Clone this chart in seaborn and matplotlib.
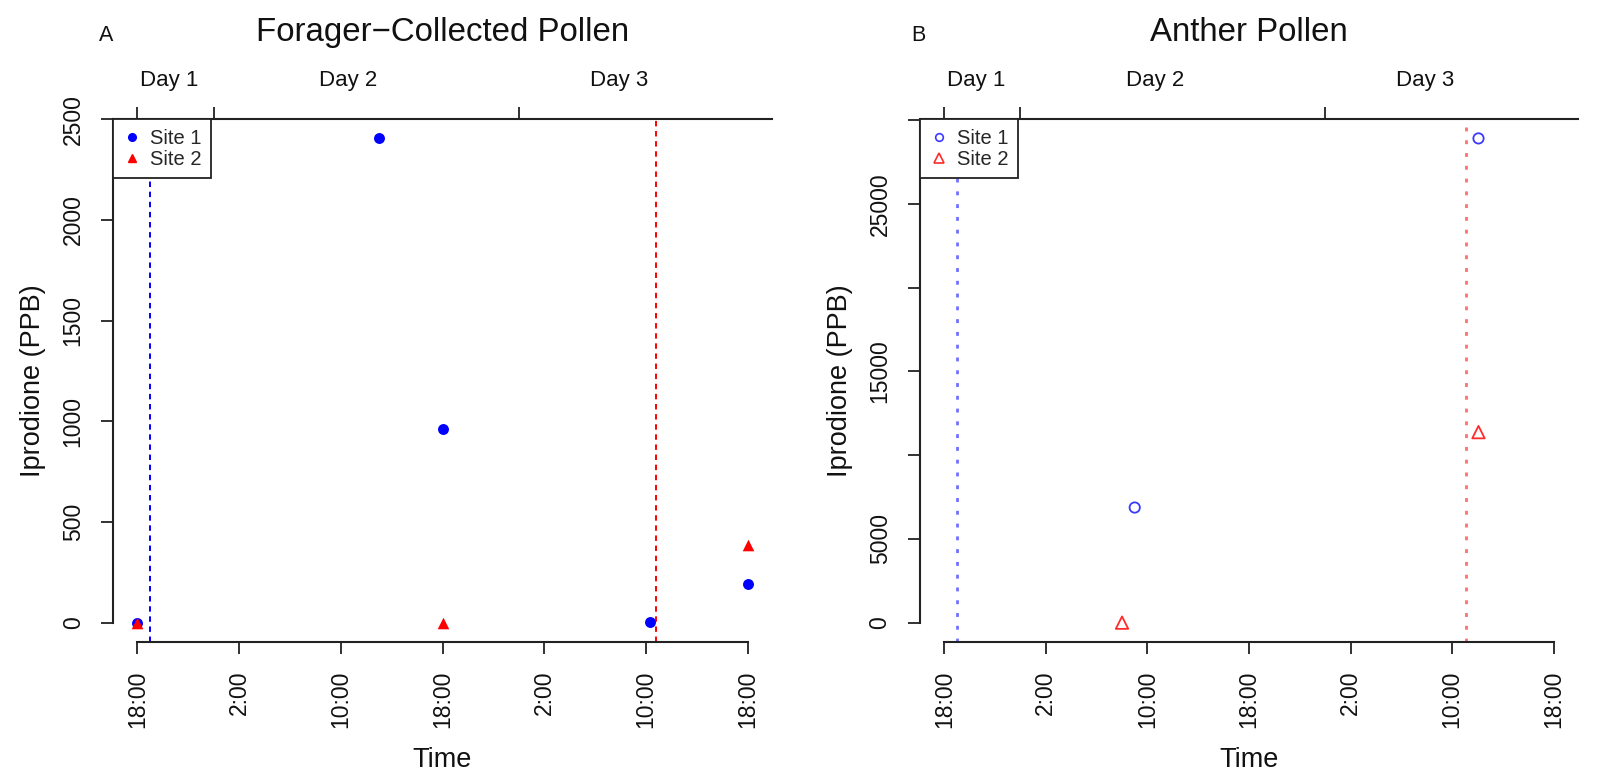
import numpy as np
import pandas as pd
import seaborn as sns
import matplotlib.pyplot as plt
from matplotlib.lines import Line2D

sns.set_theme(style='white')
plt.rcParams['font.family'] = ['Liberation Sans', 'DejaVu Sans']

# times are "day hh:mm", day 1 starts at 18:00
forager_site1_time = ['1 18:00', '2 13:00', '2 18:00', '3 10:20', '3 18:00']
forager_site1_ppb = [0, 2404, 962, 5, 190]
forager_site2_time = ['1 18:00', '2 18:00', '3 18:00']
forager_site2_ppb = [0, 0, 385]
forager_lines = ['1 19:00', '3 10:50']

anther_site1_time = ['2 09:00', '3 12:05']
anther_site1_ppb = [6870, 28900]
anther_site2_time = ['2 08:00', '3 12:05']
anther_site2_ppb = [0, 11370]
anther_lines = ['1 19:00', '3 11:05']

time_ticks = ['18:00', '2:00', '10:00', '18:00', '2:00', '10:00', '18:00']
day_names = ['Day 1', 'Day 2', 'Day 3']
day_breaks = ['1 18:00', '2 00:00', '3 00:00']
day_label_at = ['1 20:30', '2 10:36', '3 07:54']

yticks_a = [0, 500, 1000, 1500, 2000, 2500]
ylabels_a = ['0', '500', '1000', '1500', '2000', '2500']
yticks_b = [0, 5000, 10000, 15000, 20000, 25000, 30000]
ylabels_b = ['0', '5000', '', '15000', '', '25000', '']


def hrs(s):
    d, hm = s.split()
    h, m = hm.split(':')
    return (int(d) - 1) * 24 + int(h) + int(m) / 60 - 18


def frame(times, vals):
    return pd.DataFrame({'hours': [hrs(t) for t in times], 'ppb': vals})


fig = plt.figure(figsize=(16.10, 7.71), dpi=100)
ax_a = fig.add_axes([0.0702, 0.1673, 0.4093, 0.6783])
ax_b = fig.add_axes([0.5714, 0.1673, 0.4087, 0.6783])

panels = [
    (ax_a, 'A', 'Forager\u2212Collected Pollen', frame(forager_site1_time, forager_site1_ppb),
     frame(forager_site2_time, forager_site2_ppb), forager_lines, yticks_a, ylabels_a, True, -0.021),
    (ax_b, 'B', 'Anther Pollen', frame(anther_site1_time, anther_site1_ppb),
     frame(anther_site2_time, anther_site2_ppb), anther_lines, yticks_b, ylabels_b, False, -0.013),
]

axis_col = '#222222'
for ax, letter, title, d1, d2, vlines, yt, yl, filled, letter_x in panels:
    if filled:
        blue, red = '#0000ff', '#ff0000'
        sns.scatterplot(data=d1, x='hours', y='ppb', color=blue, marker='o', s=62,
                        edgecolor=blue, linewidth=0, ax=ax, zorder=3)
        sns.scatterplot(data=d2, x='hours', y='ppb', color=red, marker='^', s=70,
                        edgecolor=red, linewidth=0, ax=ax, zorder=4)
        ax.axvline(hrs(vlines[0]), color=blue, lw=1.4, ls=(0, (2.8, 2.4)), zorder=2)
        ax.axvline(hrs(vlines[1]), color=red, lw=1.4, ls=(0, (2.8, 2.4)), zorder=2)
    else:
        blue, red = '#3a3aff', '#ff2a2a'
        sns.scatterplot(data=d1, x='hours', y='ppb', color=blue, marker='o', s=55,
                        facecolor='none', edgecolor=blue, linewidth=1.3, ax=ax, zorder=3)
        sns.scatterplot(data=d2, x='hours', y='ppb', color=red, marker='^', s=80,
                        facecolor='none', edgecolor=red, linewidth=1.3, ax=ax, zorder=4)
        ax.axvline(hrs(vlines[0]), color='#7070ff', lw=2.0, ls=(0, (1.4, 3.2)), zorder=2)
        ax.axvline(hrs(vlines[1]), color='#ff7070', lw=2.0, ls=(0, (1.4, 3.2)), zorder=2)

    ymax = max(d1['ppb'].max(), d2['ppb'].max())
    ax.set_xlim(-0.04 * 48, 48 * 1.04)
    ax.set_ylim(-0.04 * ymax, 1.04 * ymax)

    ax.set_xticks(np.arange(0, 49, 8), labels=time_ticks)
    ax.set_yticks(yt, labels=yl)
    ax.tick_params(axis='both', direction='out', length=8.4, width=1.3, color=axis_col,
                   labelsize=16.5, pad=12, labelcolor='#111111', left=True, bottom=True)
    ax.tick_params(axis='x', labelrotation=90)
    ax.tick_params(axis='y', labelrotation=90)
    for lab in ax.get_yticklabels():
        lab.set_va('center')

    for side in ['top', 'right']:
        ax.spines[side].set_visible(False)
    ax.spines['bottom'].set_bounds(0, 48)
    ax.spines['left'].set_bounds(0, yt[-1])
    for side in ['bottom', 'left']:
        ax.spines[side].set_color(axis_col)
        ax.spines[side].set_linewidth(1.5)

    ax.set_xlabel('Time', fontsize=19.5, color='#111111')
    ax.set_ylabel('Iprodione (PPB)', fontsize=19.5, color='#111111')
    ax.xaxis.set_label_coords(0.5, -0.2)
    ax.yaxis.set_label_coords(-0.102, 0.5)

    # top axis with day boundaries
    top = ax.twiny()
    top.set_xlim(ax.get_xlim())
    top.set_xticks([hrs(t) for t in day_breaks])
    top.set_xticklabels([])
    top.set_xticks([hrs(t) for t in day_label_at], labels=day_names, minor=True)
    top.tick_params(axis='x', which='major', direction='out', length=9, width=1.3,
                    color=axis_col, top=True)
    top.tick_params(axis='x', which='minor', length=0, pad=20.5, labelsize=16, labelcolor='#111111')
    for side in ['bottom', 'left', 'right']:
        top.spines[side].set_visible(False)
    top.spines['top'].set_color(axis_col)
    top.spines['top'].set_linewidth(1.5)
    top.grid(False)

    ax.set_title(title, fontsize=23.8, y=1.15, pad=0, color='#111111')
    ax.text(letter_x, 1.15, letter, transform=ax.transAxes, fontsize=15.5,
            ha='left', va='baseline', color='#111111')

    if filled:
        handles = [Line2D([], [], ls='', marker='o', color=blue, markersize=5.5),
                   Line2D([], [], ls='', marker='^', color=red, markersize=6)]
    else:
        handles = [Line2D([], [], ls='', marker='o', markerfacecolor='none', markeredgecolor=blue,
                          markersize=5.5, markeredgewidth=1.2),
                   Line2D([], [], ls='', marker='^', markerfacecolor='none', markeredgecolor=red,
                          markersize=6.5, markeredgewidth=1.2)]
    leg = top.legend(handles, ['Site 1', 'Site 2'], loc='upper left', bbox_to_anchor=(0, 1),
                     borderaxespad=0, fontsize=14.5, frameon=True, fancybox=False,
                     edgecolor=axis_col, framealpha=1, handlelength=0.9, handletextpad=0.45,
                     labelspacing=0.1, borderpad=0.48)
    leg.get_frame().set_linewidth(1.3)

fig.savefig('out.png', dpi=100)
